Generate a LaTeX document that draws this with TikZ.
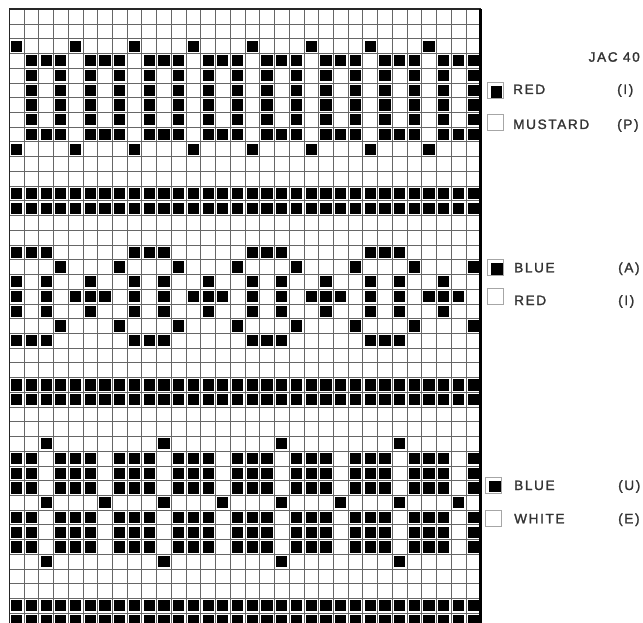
\documentclass[tikz,border=0pt]{standalone}
\usepackage{fontspec}
\setmainfont{Liberation Sans}
\newfontfamily\legfont[LetterSpace=12,FakeBold=1.6]{Liberation Sans}
\begin{document}
\begin{tikzpicture}[x=1pt,y=-1pt,
  gridline/.style={draw=black!60,line width=0.8pt},
  border/.style={draw=black!85,line width=1.6pt},
  legbox/.style={draw=black!35,line width=0.8pt,minimum size=16pt,inner sep=0pt},
  legfill/.style={fill=black,minimum size=11.5pt,inner sep=0pt},
  legtext/.style={anchor=base west,inner sep=0pt,font=\legfont\fontsize{13.6}{14}\selectfont,text=black!80}]
\useasboundingbox (0,0) rectangle (643,623);
\clip (0,0) rectangle (643,623);
\def\ox{9.3}\def\oy{9.3}\def\cs{14.73}\def\ins{1.75}\def\sq{11.2}
\newcommand\fillcell[2]{\fill[black] ({\ox+#1*\cs+\ins},{\oy+#2*\cs+\ins}) rectangle ++(\sq,\sq);}
% grid lines
\foreach \i in {0,...,32} \draw[gridline] ({\ox+\i*\cs},\oy) -- ({\ox+\i*\cs},630);
\foreach \j in {0,...,42} \draw[gridline] (\ox,{\oy+\j*\cs}) -- ({\ox+32*\cs},{\oy+\j*\cs});
% top band
\foreach \r in {2,9} \foreach \c in {0,4,...,28} {\fillcell{\c}{\r}}
\foreach \r in {3,8} \foreach \c in {1,2,3,5,6,7,9,10,11,13,14,15,17,18,19,21,22,23,25,26,27,29,30,31} {\fillcell{\c}{\r}}
\foreach \r in {4,...,7} \foreach \c in {1,3,...,31} {\fillcell{\c}{\r}}
% full rows
\foreach \r in {12,13,25,26,40,41} \foreach \c in {0,...,31} {\fillcell{\c}{\r}}
% middle band
\foreach \r in {16,22} \foreach \c in {0,1,2,8,9,10,16,17,18,24,25,26} {\fillcell{\c}{\r}}
\foreach \r in {17,21} \foreach \c in {3,7,...,31} {\fillcell{\c}{\r}}
\foreach \r in {18,20} \foreach \c in {0,2,5,8,10,13,16,18,21,24,26,29} {\fillcell{\c}{\r}}
\foreach \c in {0,2,4,5,6,8,10,12,13,14,16,18,20,21,22,24,26,28,29,30} {\fillcell{\c}{19}}
% bottom band
\foreach \r in {29,37} \foreach \c in {2,10,18,26} {\fillcell{\c}{\r}}
\foreach \r in {30,31,32,34,35,36} \foreach \c in {0,1,3,4,5,7,8,9,11,12,13,15,16,17,19,20,21,23,24,25,27,28,29,31} {\fillcell{\c}{\r}}
\foreach \c in {2,6,...,30} {\fillcell{\c}{33}}
% border
\draw[border] (\ox,630) -- (\ox,\oy) -- ({\ox+32*\cs},\oy);
\draw[draw=black,line width=2.4pt] ({\ox+32*\cs},\oy) -- ({\ox+32*\cs},630);
% legend
\node[legtext,anchor=base east] (jac) at (640,61.7) {JAC 40};
\node[legbox] (b1) at (495,90.5) {};
\node[legfill] (f1) at (496.3,91.8) {};
\node[legtext] (t1) at (513,94) {RED};
\node[legtext] (p1) at (617,94) {(I)};
\node[legbox] (b2) at (495,122) {};
\node[legtext] (t2) at (513,129) {MUSTARD};
\node[legtext] (p2) at (617,129) {(P)};
\node[legbox] (b3) at (495.5,267.5) {};
\node[legfill] (f3) at (496.8,268.8) {};
\node[legtext] (t3) at (514,272.3) {BLUE};
\node[legtext] (p3) at (618,272.3) {(A)};
\node[legbox] (b4) at (495,296) {};
\node[legtext] (t4) at (514,305) {RED};
\node[legtext] (p4) at (618,305) {(I)};
\node[legbox] (b5) at (493.5,485) {};
\node[legfill] (f5) at (494.8,486.3) {};
\node[legtext] (t5) at (514,490) {BLUE};
\node[legtext] (p5) at (618,490) {(U)};
\node[legbox] (b6) at (493.5,518.5) {};
\node[legtext] (t6) at (514,523.3) {WHITE};
\node[legtext] (p6) at (618,523.3) {(E)};
\end{tikzpicture}
\end{document}
